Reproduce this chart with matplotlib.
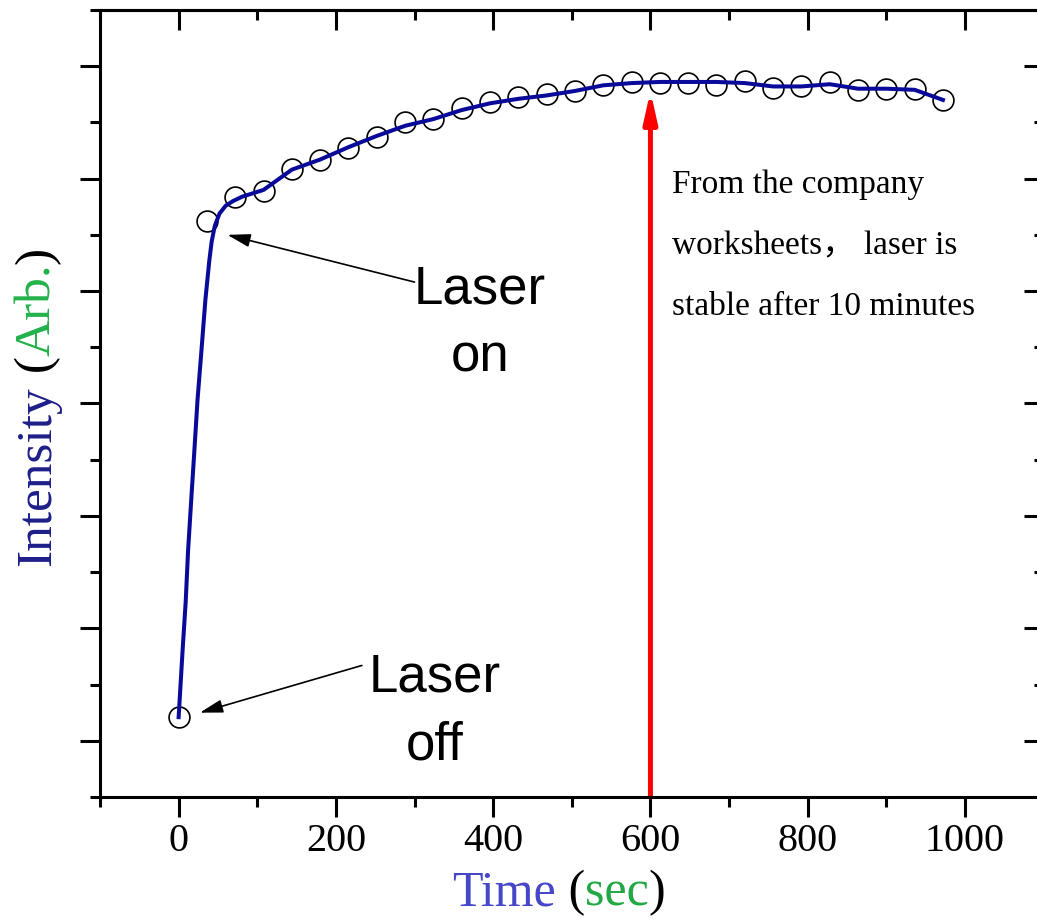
import matplotlib
matplotlib.use('Agg')
import matplotlib.pyplot as plt
from matplotlib.ticker import MultipleLocator

plt.rcParams['font.family'] = ['Liberation Serif']

# measured points (open circles)
time_pts = [0, 36, 72, 108, 144, 180, 216, 252, 288, 324, 360, 396, 432, 468,
            504, 540, 576, 612, 648, 684, 720, 756, 792, 828, 864, 900, 936, 972]
intensity_pts = [1.21, 5.62, 5.84, 5.89, 6.09, 6.17, 6.27, 6.37, 6.50, 6.53,
                 6.63, 6.68, 6.73, 6.75, 6.78, 6.83, 6.86, 6.85, 6.85, 6.83,
                 6.87, 6.81, 6.82, 6.86, 6.79, 6.80, 6.80, 6.70]

# smooth curve
fit_t = [0, 5, 9, 12, 16, 20, 24, 29, 34, 39, 42, 46, 52, 60, 69, 81,
         108, 144, 180, 216, 252, 288, 324, 360, 396, 432, 468, 504, 540,
         576, 612, 648, 684, 720, 756, 792, 828, 864, 900, 936, 972]
fit_y = [1.21, 1.80, 2.24, 2.69, 3.14, 3.58, 4.03, 4.47, 4.92, 5.27, 5.44,
         5.58, 5.69, 5.76, 5.80, 5.84,
         5.90, 6.08, 6.17, 6.28, 6.38, 6.47, 6.53, 6.61, 6.67, 6.71, 6.74,
         6.78, 6.83, 6.85, 6.86, 6.86, 6.86, 6.85, 6.82, 6.82, 6.84, 6.80,
         6.80, 6.79, 6.70]

stable_time = 600

fig = plt.figure(figsize=(10.37, 9.18), dpi=100)
ax = fig.add_axes([100 / 1037, 1 - 797 / 918, 943.6 / 1037, 787 / 918])

ax.plot(time_pts, intensity_pts, 'o', mfc='none', mec='black', ms=15,
        mew=1.2, zorder=3)
ax.plot(fit_t, fit_y, color='#0a0a9a', lw=2.9, zorder=4)

ax.set_xlim(-100, 1100)
ax.set_ylim(0.5, 7.5)

for s in ax.spines.values():
    s.set_linewidth(2.2)

ax.xaxis.set_major_locator(MultipleLocator(200))
ax.xaxis.set_minor_locator(MultipleLocator(100))
ax.yaxis.set_major_locator(MultipleLocator(1))
ax.yaxis.set_minor_locator(MultipleLocator(0.5))
ax.tick_params(which='both', direction='out', width=2.2, top=False,
               right=False, labelleft=False)
ax.tick_params(which='major', length=14.4)
ax.tick_params(which='minor', length=7.2)
ax.tick_params(axis='x', labelsize=29, pad=4)

top = ax.secondary_xaxis('top')
top.xaxis.set_major_locator(MultipleLocator(200))
top.xaxis.set_minor_locator(MultipleLocator(100))
top.tick_params(which='both', direction='in', width=2.2, labeltop=False)
top.tick_params(which='major', length=14.4)
top.tick_params(which='minor', length=7.2)
top.spines['top'].set_linewidth(2.2)

right = ax.secondary_yaxis('right')
right.yaxis.set_major_locator(MultipleLocator(1))
right.yaxis.set_minor_locator(MultipleLocator(0.5))
right.tick_params(which='both', direction='in', width=2.2, labelright=False)
right.tick_params(which='major', length=14.4)
right.tick_params(which='minor', length=7.2)
right.spines['right'].set_linewidth(2.2)

# red arrow at 10 minutes
ax.annotate('', xy=(stable_time, 6.78), xytext=(stable_time, 0.5),
            arrowprops=dict(arrowstyle='-|>,head_length=1.8,head_width=0.4',
                            color='red', lw=3.6, shrinkA=0, shrinkB=0),
            zorder=2)

# Laser annotations
arrow_kw = dict(arrowstyle='-|>,head_length=1.4,head_width=0.4',
                color='black', lw=1.2, shrinkA=0, shrinkB=0)
ax.annotate('', xy=(62, 5.50), xytext=(300, 5.08), arrowprops=arrow_kw)
ax.annotate('', xy=(27, 1.25), xytext=(233, 1.67), arrowprops=arrow_kw)
ax.text(383, 4.71, 'Laser\non', fontsize=38, family='Liberation Sans',
        ha='center', va='center', multialignment='center', linespacing=1.45)
ax.text(326, 1.26, 'Laser\noff', fontsize=38, family='Liberation Sans',
        ha='center', va='center', multialignment='center', linespacing=1.45)

ax.text(627, 5.40, 'From the company\nworksheets\uff0c laser is\nstable after 10 minutes',
        fontsize=24, family=['Liberation Serif', 'Noto Sans CJK SC'],
        ha='left', va='center', linespacing=2.3)

# multi-coloured axis labels
fs = 36
t = fig.text(452 / 1037, 1 - 905 / 918, 'Time', color='#4646c8', fontsize=fs,
             ha='left', va='baseline')
for piece, col in [(' (', 'black'), ('sec', '#22a844'), (')', 'black')]:
    t = ax.annotate(piece, xy=(1, 0), xycoords=t, color=col, fontsize=fs,
                    ha='left', va='bottom', annotation_clip=False)

t = fig.text(50 / 1037, 1 - 566 / 918, 'Intensity', color='#1e1e8a',
             fontsize=37, rotation=90, rotation_mode='anchor', ha='left',
             va='baseline')
for piece, col in [(' (', 'black'), ('Arb.', '#22b24a'), (')', 'black')]:
    t = ax.annotate(piece, xy=(0, 1), xycoords=t, color=col, fontsize=37,
                    rotation=90, ha='left', va='bottom', annotation_clip=False)

fig.savefig('out.png', dpi=100)
